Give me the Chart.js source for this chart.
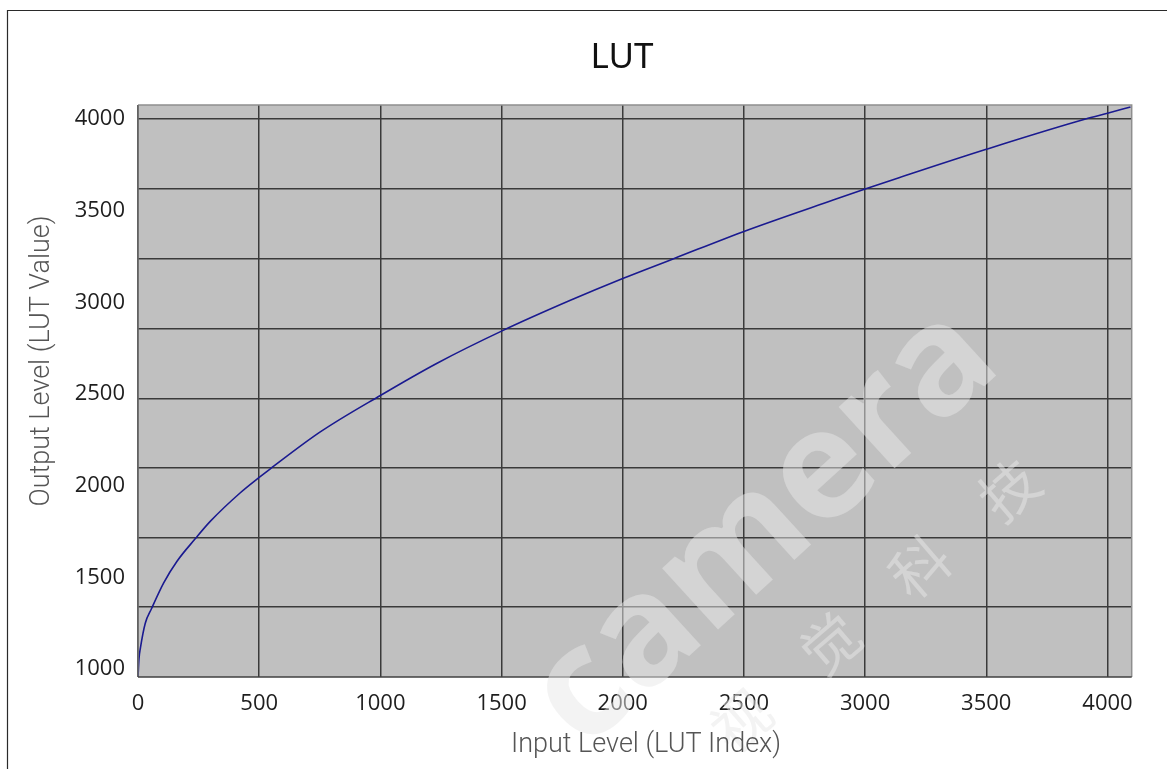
<!DOCTYPE html>
<html><head><meta charset="utf-8">
<script src="https://cdn.jsdelivr.net/npm/chart.js@4/dist/chart.umd.min.js"></script>
<style>html,body{margin:0;padding:0;background:#fff;overflow:hidden}#wrap{position:relative;width:1167px;height:769px}</style>
</head><body><div id="wrap"><canvas id="c" width="1167" height="769"></canvas></div>
<script>
const chartTitle = 'LUT';
const xAxisTitle = 'Input Level (LUT Index)';
const yAxisTitle = 'Output Level (LUT Value)';
const watermarkText = 'camera';
const watermarkChars = ['视', '觉', '科', '技'];

const inputLevels  = [0, 4, 10, 30, 56, 106, 161, 236, 298, 421, 500, 546, 752, 1000, 1234, 1500, 1784, 2000, 2210, 2500, 2868, 3000, 3140, 3500, 3910, 4000, 4095];
const outputLevels = [956, 1055, 1115, 1250, 1330, 1470, 1588, 1710, 1805, 1960, 2045, 2092, 2293, 2492, 2668, 2843, 3011, 3130, 3238, 3387, 3558, 3618, 3680, 3835, 4000, 4031, 4066];

const xTickValues = [0, 500, 1000, 1500, 2000, 2500, 3000, 3500, 4000];
const yTickValues = [1000, 1500, 2000, 2500, 3000, 3500, 4000];
const yGridValues = [4000, 3618, 3236, 2855, 2476, 2096, 1715, 1338];

const X_MIN = 0, X_MAX = 4100, Y_MIN = 956.4, Y_MAX = 4076.4;

const points = inputLevels.map((x, i) => ({ x: x, y: outputLevels[i] }));

const decor = {
  id: 'decor',
  beforeDraw(chart) {
    const ctx = chart.ctx, a = chart.chartArea;
    ctx.save();
    ctx.fillStyle = '#ffffff';
    ctx.fillRect(0, 0, chart.width, chart.height);
    ctx.strokeStyle = '#2a2a2a';
    ctx.lineWidth = 1.2;
    ctx.beginPath();
    ctx.moveTo(7.5, chart.height + 2); ctx.lineTo(7.5, 10.5); ctx.lineTo(chart.width + 2, 10.5);
    ctx.stroke();
    ctx.fillStyle = '#c0c0c0';
    ctx.fillRect(a.left, a.top, a.right - a.left, a.bottom - a.top);
    ctx.restore();
  },
  afterDatasetsDraw(chart) {
    const ctx = chart.ctx, a = chart.chartArea;
    ctx.save();
    ctx.lineWidth = 1.5;
    ctx.strokeStyle = '#8e8e8e';
    ctx.beginPath();
    ctx.moveTo(a.left, a.top); ctx.lineTo(a.right, a.top); ctx.lineTo(a.right, a.bottom);
    ctx.stroke();
    ctx.strokeStyle = '#707070';
    ctx.beginPath(); ctx.moveTo(a.left, a.top); ctx.lineTo(a.left, a.bottom); ctx.stroke();
    ctx.strokeStyle = '#404040';
    ctx.beginPath(); ctx.moveTo(a.left, a.bottom); ctx.lineTo(a.right, a.bottom); ctx.stroke();
    ctx.restore();
  },
  afterDraw(chart) {
    const ctx = chart.ctx;
    ctx.save();
    // watermark
    ctx.fillStyle = 'rgba(232,232,232,0.5)';
    ctx.save();
    ctx.translate(765, 528);
    ctx.rotate(-0.74);
    ctx.font = 'bold 152px "Open Sans"';
    ctx.textAlign = 'center';
    ctx.textBaseline = 'middle';
    ctx.fillText(watermarkText, 0, 0);
    ctx.restore();
    ctx.save();
    ctx.translate(875, 605);
    ctx.rotate(-0.71);
    ctx.font = '58px "Noto Sans CJK SC"';
    ctx.textAlign = 'center';
    ctx.textBaseline = 'middle';
    const offs = [-177, -59, 59, 177];
    watermarkChars.forEach((ch, i) => ctx.fillText(ch, offs[i], 0));
    ctx.restore();
    // titles
    ctx.textAlign = 'center';
    ctx.textBaseline = 'middle';
    ctx.fillStyle = '#111';
    ctx.font = '35px "Noto Sans"';
    ctx.fillText(chartTitle, 622, 58);
    ctx.fillStyle = '#555';
    ctx.font = '300 27px Roboto';
    ctx.fillText(xAxisTitle, 646, 745);
    ctx.save();
    ctx.translate(42, 361);
    ctx.rotate(-Math.PI / 2);
    ctx.fillText(yAxisTitle, 0, 0);
    ctx.restore();
    ctx.restore();
  }
};

const plain = v => String(v);

new Chart(document.getElementById('c'), {
  type: 'line',
  data: {
    datasets: [{
      data: points,
      borderColor: '#1a1a90',
      borderWidth: 1.6,
      pointRadius: 0,
      fill: false,
      cubicInterpolationMode: 'monotone'
    }]
  },
  options: {
    responsive: false,
    animation: false,
    devicePixelRatio: 1,
    layout: { padding: { left: 0, top: 105, right: 35.3, bottom: 0 } },
    plugins: { legend: { display: false }, title: { display: false }, tooltip: { enabled: false } },
    scales: {
      x: {
        type: 'linear', min: X_MIN, max: X_MAX,
        afterBuildTicks: s => { s.ticks = xTickValues.map(v => ({ value: v })); },
        afterFit: s => { s.height = 92; },
        grid: { color: '#3a3a3a', lineWidth: 1.5, drawTicks: false },
        border: { display: false },
        ticks: { padding: 14, color: '#1e1e1e', font: { family: '"Open Sans"', size: 22 }, maxRotation: 0, autoSkip: false, callback: plain }
      },
      y: {
        type: 'linear', position: 'left', min: Y_MIN, max: Y_MAX,
        afterBuildTicks: s => { s.ticks = yTickValues.map(v => ({ value: v })); },
        afterFit: s => { s.width = 138; },
        grid: { display: false, drawTicks: false },
        border: { display: false },
        ticks: { padding: 13, color: '#1e1e1e', font: { family: '"Open Sans"', size: 22 }, autoSkip: false, callback: plain }
      },
      yg: {
        type: 'linear', position: 'right', min: Y_MIN, max: Y_MAX,
        afterBuildTicks: s => { s.ticks = yGridValues.map(v => ({ value: v })); },
        afterFit: s => { s.width = 0; },
        grid: { color: '#3a3a3a', lineWidth: 1.5, drawTicks: false },
        border: { display: false },
        ticks: { display: false }
      }
    }
  },
  plugins: [decor]
});
</script>
</body></html>
